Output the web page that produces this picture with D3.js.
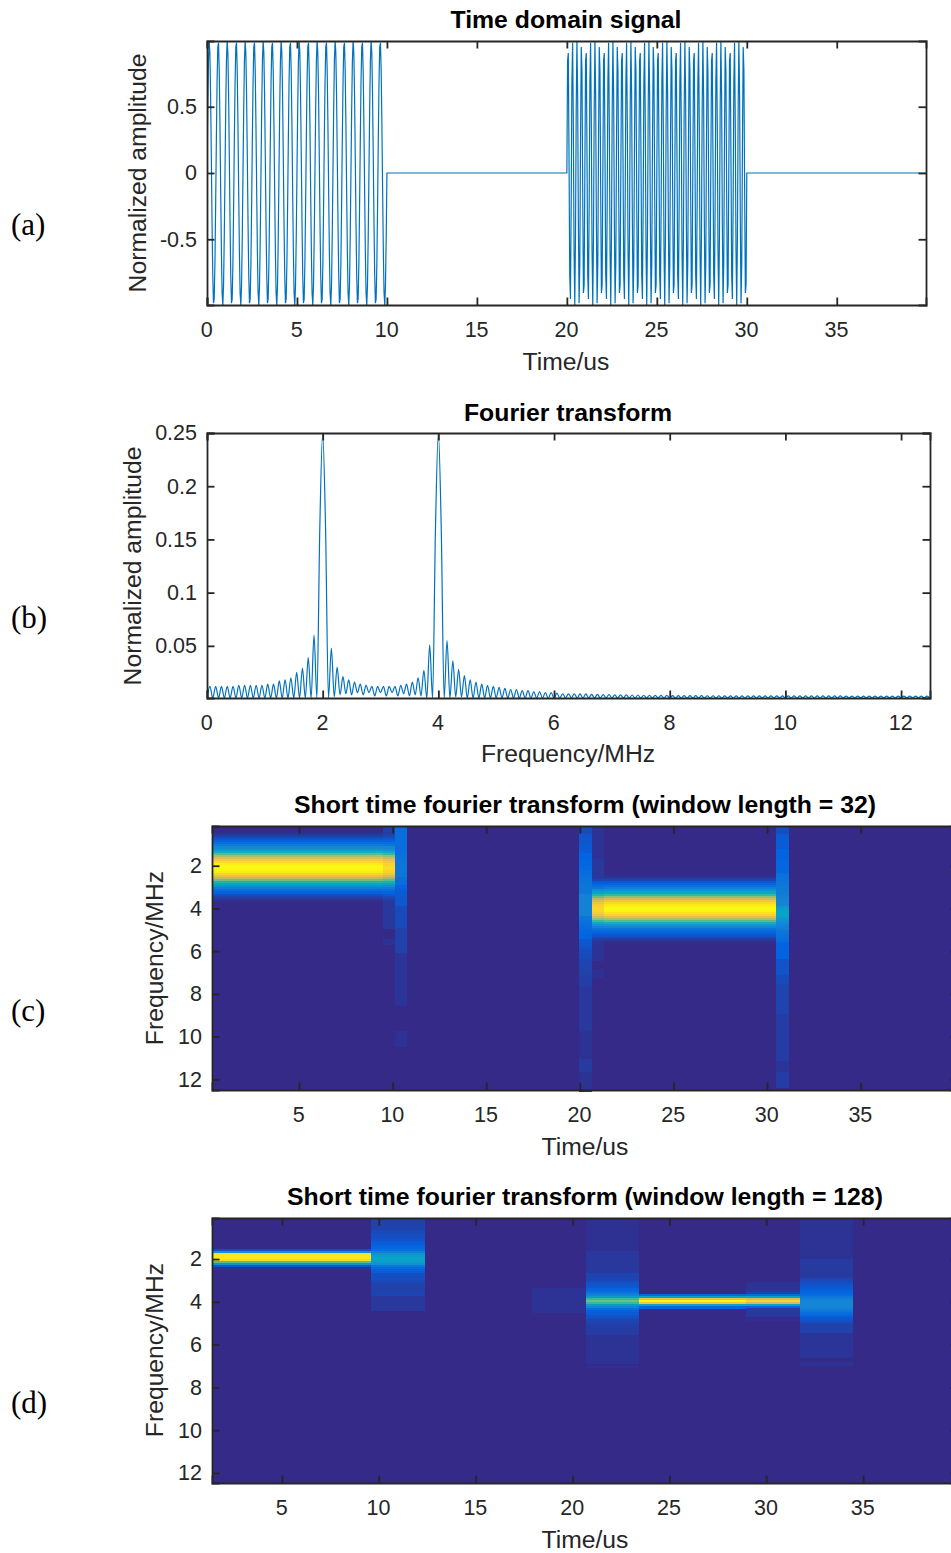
<!DOCTYPE html>
<html>
<head>
<meta charset="utf-8">
<style>
  body { margin: 0; background: #fff; overflow: hidden; }
  svg { display: block; }
  text { font-family: "Liberation Sans", Arial, sans-serif; fill: #262626; }
  .tickText text { font-size: 21.5px; }
  .labels { font-size: 24.7px; text-anchor: middle; }
  .title { font-size: 24.8px; font-weight: bold; text-anchor: middle; fill: #000; }
  .panelTag { font-family: "Liberation Serif", "Times New Roman", serif; font-size: 31px; fill: #000; }
</style>
</head>
<body>
<div id="vis"></div>
<script src="https://cdn.jsdelivr.net/npm/d3@7"></script>
<script>
// (a) time domain samples, 0.04 us apart
const sampleStep = 0.04;
const burstA = [
  0,.482,.844,.998,.905,.588,.125,-.368,-.771,-.982,-.951,-.685,-.249,.249,.685,.951,.982,.771,.368,-.125,-.588,-.905,-.998,-.844,-.482,
  0,.482,.844,.998,.905,.588,.125,-.368,-.771,-.982,-.951,-.685,-.249,.249,.685,.951,.982,.771,.368,-.125,-.588,-.905,-.998,-.844,-.482,
  0,.482,.844,.998,.905,.588,.125,-.368,-.771,-.982,-.951,-.685,-.249,.249,.685,.951,.982,.771,.368,-.125,-.588,-.905,-.998,-.844,-.482,
  0,.482,.844,.998,.905,.588,.125,-.368,-.771,-.982,-.951,-.685,-.249,.249,.685,.951,.982,.771,.368,-.125,-.588,-.905,-.998,-.844,-.482,
  0,.482,.844,.998,.905,.588,.125,-.368,-.771,-.982,-.951,-.685,-.249,.249,.685,.951,.982,.771,.368,-.125,-.588,-.905,-.998,-.844,-.482,
  0,.482,.844,.998,.905,.588,.125,-.368,-.771,-.982,-.951,-.685,-.249,.249,.685,.951,.982,.771,.368,-.125,-.588,-.905,-.998,-.844,-.482,
  0,.482,.844,.998,.905,.588,.125,-.368,-.771,-.982,-.951,-.685,-.249,.249,.685,.951,.982,.771,.368,-.125,-.588,-.905,-.998,-.844,-.482,
  0,.482,.844,.998,.905,.588,.125,-.368,-.771,-.982,-.951,-.685,-.249,.249,.685,.951,.982,.771,.368,-.125,-.588,-.905,-.998,-.844,-.482,
  0,.482,.844,.998,.905,.588,.125,-.368,-.771,-.982,-.951,-.685,-.249,.249,.685,.951,.982,.771,.368,-.125,-.588,-.905,-.998,-.844,-.482,
  0,.482,.844,.998,.905,.588,.125,-.368,-.771,-.982,-.951,-.685,-.249,.249,.685,.951,.982,.771,.368,-.125,-.588,-.905,-.998,-.844,-.482,
  0];
const burstB = [
  0,.844,.905,.125,-.771,-.951,-.249,.685,.982,.368,-.588,-.998,-.482,.482,.998,.588,-.368,-.982,-.685,.249,.951,.771,-.125,-.905,-.844,
  0,.844,.905,.125,-.771,-.951,-.249,.685,.982,.368,-.588,-.998,-.482,.482,.998,.588,-.368,-.982,-.685,.249,.951,.771,-.125,-.905,-.844,
  0,.844,.905,.125,-.771,-.951,-.249,.685,.982,.368,-.588,-.998,-.482,.482,.998,.588,-.368,-.982,-.685,.249,.951,.771,-.125,-.905,-.844,
  0,.844,.905,.125,-.771,-.951,-.249,.685,.982,.368,-.588,-.998,-.482,.482,.998,.588,-.368,-.982,-.685,.249,.951,.771,-.125,-.905,-.844,
  0,.844,.905,.125,-.771,-.951,-.249,.685,.982,.368,-.588,-.998,-.482,.482,.998,.588,-.368,-.982,-.685,.249,.951,.771,-.125,-.905,-.844,
  0,.844,.905,.125,-.771,-.951,-.249,.685,.982,.368,-.588,-.998,-.482,.482,.998,.588,-.368,-.982,-.685,.249,.951,.771,-.125,-.905,-.844,
  0,.844,.905,.125,-.771,-.951,-.249,.685,.982,.368,-.588,-.998,-.482,.482,.998,.588,-.368,-.982,-.685,.249,.951,.771,-.125,-.905,-.844,
  0,.844,.905,.125,-.771,-.951,-.249,.685,.982,.368,-.588,-.998,-.482,.482,.998,.588,-.368,-.982,-.685,.249,.951,.771,-.125,-.905,-.844,
  0,.844,.905,.125,-.771,-.951,-.249,.685,.982,.368,-.588,-.998,-.482,.482,.998,.588,-.368,-.982,-.685,.249,.951,.771,-.125,-.905,-.844,
  0,.844,.905,.125,-.771,-.951,-.249,.685,.982,.368,-.588,-.998,-.482,.482,.998,.588,-.368,-.982,-.685,.249,.951,.771,-.125,-.905,-.844,
  0];

// (b) spectrum, one value each 0.05 MHz, one row per MHz
const spectrumStep = 0.05;
const spectrum = [
  .002,.012,.001,.012,.001,.012,.001,.012,.001,.012,.001,.013,.001,.013,.001,.013,.001,.013,.001,.013,
  .001,.014,.001,.014,.001,.017,.001,.018,.001,.020,.001,.025,.001,.029,.001,.039,.001,.060,.001,.16,
  .25,.16,.001,.048,.002,.030,.004,.021,.005,.018,.004,.016,.006,.014,.004,.013,.006,.012,.003,.012,
  .006,.012,.003,.012,.006,.012,.003,.013,.005,.014,.003,.016,.004,.020,.003,.027,.001,.051,.001,.16,
  .25,.16,.001,.055,.001,.036,.002,.028,.002,.022,.001,.018,.001,.016,.001,.014,.001,.013,.001,.012,
  .001,.011,.001,.010,.001,.009,.001,.009,.001,.008,.001,.008,.001,.007,.001,.007,.001,.006,.001,.006,
  .001,.0055,.001,.005,.001,.005,.001,.005,.001,.0048,.001,.0048,.001,.0045,.001,.0045,.001,.0042,.001,.0042,
  .001,.004,.001,.004,.001,.004,.001,.0038,.001,.0038,.001,.0036,.001,.0036,.001,.0035,.001,.0035,.001,.0035,
  .001,.0033,.001,.0033,.001,.0032,.001,.0032,.001,.0032,.001,.0032,.001,.0031,.001,.0031,.001,.0031,.001,.003,
  .001,.003,.001,.003,.001,.003,.001,.003,.001,.003,.001,.003,.001,.003,.001,.003,.001,.003,.001,.003,
  .001,.003,.001,.003,.001,.003,.001,.003,.001,.003,.001,.003,.001,.003,.001,.003,.001,.003,.001,.003,
  .001,.0028,.001,.0028,.001,.0028,.001,.0028,.001,.0028,.001,.0028,.001,.0028,.001,.0028,.001,.0028,.001,.0028,
  .001,.0028,.001,.0028,.001,.0028,.001,.0028,.001,.0028,.001];

// (c) spectrogram, window 32: time edges in us, first row and row values of each column
const heatRows = 129;
const edges32 = [0.35, 9.5, 10.14, 10.78, 19.96, 20.65, 21.3, 30.5, 31.15, 40.2];
const start32 = [3, 0, 0, 0, 0, 0, 24, 0, 0];
const cols32 = [
  [.01,.03,.06,.09,.12,.16,.21,.27,.34,.42,.55,.67,.77,.85,.91,.96,.99,1,.98,.95,.88,.8,.7,.58,.45,.37,.29,.22,.16,.12,.08,.05,.03,.01],
  [.05,.05,.05,.04,.05,.07,.1,.12,.16,.2,.26,.32,.4,.5,.62,.72,.8,.85,.88,.9,.92,.9,.88,.83,.75,.65,.55,.43,.35,.28,.22,.17,.13,.1,.07,.05,
   .03,.03,.03,.03,.03,.03,.03,.03,.03,.03,.03,.03,.03,.03,0,0,0,0,0,.02,.02,.02],
  [.16,.16,.16,.16,.16,.16,.16,.16,.16,.16,.16,.16,.17,.17,.18,.18,.19,.19,.2,.2,.2,.2,.19,.19,.19,.16,.16,.16,.16,.125,.125,.115,.11,.11,.105,.1,.1,.1,.1,
   .07,.07,.07,.07,.07,.07,.07,.07,.07,.07,.07,.05,.05,.05,.05,.05,.05,.05,.05,.05,.05,.05,.05,
   .025,.025,.025,.025,.025,.025,.025,.025,.025,.025,.025,.025,.025,.025,.025,.025,.025,.025,.025,.025,.025,.025,.025,.025,.025,.025,
   0,0,0,0,0,0,0,0,0,0,0,0,.02,.02,.02,.02,.02,.02,.02,.02],
  [],
  [.07,.07,.07,.07,.09,.09,.095,.095,.1,.1,.105,.11,.11,.125,.125,.13,.13,.14,.14,.145,.15,.15,.16,.165,.17,.175,.18,.185,.19,.195,.2,.2,.2,
   .24,.24,.24,.24,.24,.24,.24,.24,.24,.24,.24,.2,.19,.18,.17,.16,.155,.15,.14,.135,.13,.125,.1,.1,.095,.09,.085,.08,.075,.07,.07,.07,
   .06,.06,.055,.055,.05,.05,.05,.05,.045,.045,.045,.045,.045,
   .03,.03,.03,.03,.03,.03,.03,.03,.03,.03,.03,.03,.03,.03,.03,.03,.03,.03,.03,.03,.03,.03,
   .02,.02,.02,.02,.02,.02,.02,.02,.02,.02,.02,.02,.02,.02,.035,.035,.035,.035,.035,.035,.02,.02,.02,.02,.02,.02,.02,.02,.02,.02],
  [.02,.02,.02,.02,.02,.02,.02,.02,.02,.02,.02,.02,.02,.02,.02,.02,.03,.03,.03,.03,.03,.03,.03,.03,.03,
   .03,.06,.1,.13,.16,.2,.28,.36,.46,.57,.68,.76,.82,.86,.89,.9,.89,.86,.81,.73,.63,.51,.39,.31,.24,.18,.15,.12,.09,.06,.04,
   .02,.02,.02,.02,.02,.02,.02,.02,.02,.02,0,0,0,0,.015,.015,.015,.015],
  [.01,.03,.06,.1,.13,.17,.22,.3,.38,.5,.62,.74,.83,.9,.95,.99,1,.98,.94,.88,.79,.68,.55,.42,.33,.25,.19,.15,.12,.09,.06,.03,.01],
  [.08,.08,.08,.08,.11,.11,.11,.11,.11,.11,.11,.125,.125,.125,.13,.13,.13,.135,.135,.14,.14,.14,.14,.17,.175,.18,.185,.19,.195,.2,.205,.21,.215,.22,.23,.24,.245,.25,.25,
   .31,.34,.36,.375,.37,.35,.32,.3,.27,.25,.23,.22,.2,.19,.18,.17,.16,.15,.125,.125,.125,.125,.125,.125,.125,.125,.09,.09,.09,.09,.09,.09,.09,.09,.07,.07,.07,.07,
   .055,.055,.055,.055,.055,.055,.055,.055,.055,.055,.055,.055,.055,.055,.055,
   .04,.04,.04,.04,.04,.04,.04,.04,.04,.04,.04,.04,.04,.04,.04,.04,.04,.04,.04,.04,.04,.04,.04,
   .025,.025,.025,.025,.025,.04,.04,.04,.04,.04,.04,.04,.04],
  []
];

// (d) spectrogram, window 128
const edges128 = [1.39, 9.6, 12.38, 17.9, 20.69, 23.43, 28.95, 31.74, 34.48, 39.9];
const start128 = [15, 0, 0, 34, 0, 37, 31, 0, 0];
const cols128 = [
  [.08,.3,.92,.95,.95,.9,.55,.3,.1,.02],
  [.05,.05,.05,.05,.05,.05,.07,.07,.08,.08,.09,.11,.11,.12,.14,.17,.22,.3,.34,.36,.36,.34,.3,.2,.15,.12,.11,.08,.08,.08,.07,.06,.05,.05,.05,.05,.06,.06,.03,.03,.03,.03,.03,.03,.03],
  [],
  [.02,.02,.02,.02,.02,.02,.02,.02,.02,.02,.02,.02],
  [.015,.015,.015,.015,.015,.015,.015,.015,.015,.015,.015,.015,.015,.015,.015,.015,.03,.03,.03,.03,.03,.03,.03,.03,.03,.03,.03,.06,.06,.06,.07,.09,.09,.1,.13,.15,.2,.25,.33,.5,.58,.5,.33,.25,.16,.12,.11,.09,.08,.06,.06,.05,.04,.04,.04,.04,.04,
   .02,.02,.02,.02,.02,.02,.02,.02,.02,.02,.02,.02,.02,.02,0,.02],
  [.15,.35,.8,.98,.85,.35,.13],
  [.02,.02,.02,.02,.03,.05,.15,.35,.75,.88,.75,.35,.13,.03,.03,.03,.03,0,.015],
  [.02,.02,.02,.02,.02,.02,.02,.02,.02,.02,.02,.02,.02,.02,.02,.02,.02,.02,.02,.02,.035,.035,.035,.035,.035,.035,.035,.035,.035,.06,.07,.08,.09,.1,.11,.125,.14,.16,.2,.23,.25,.25,.25,.25,.23,.2,.16,.125,.1,.09,.08,.05,.05,.05,.05,.05,
   .025,.025,.025,.025,.025,.025,.025,.025,.025,.025,.025,.025,0,0,.02,.02],
  []
];

// tick labels
const timeTicksA = [0, 5, 10, 15, 20, 25, 30, 35];
const ampTicksA = [-0.5, 0, 0.5];
const freqTicksB = [0, 2, 4, 6, 8, 10, 12];
const ampTicksB = [0.05, 0.1, 0.15, 0.2, 0.25];
const timeTicksHeat = [5, 10, 15, 20, 25, 30, 35];
const freqTicksHeat = [2, 4, 6, 8, 10, 12];

const parula = d3.scaleLinear()
  .domain(d3.range(9).map(d => d / 8))
  .range(["#352a87", "#0363e1", "#1485d4", "#06a7c6", "#38b99e", "#92bf73", "#d9ba56", "#fcce2e", "#f9fb0e"])
  .clamp(true);

const lineColor = "#0072bd";
const inkColor = "#262626";

const svg = d3.select('#vis')
  .append('svg')
  .attr('width', 951)
  .attr('height', 1553);

svg.append("rect").attr("width", 951).attr("height", 1553).attr("fill", "#fff");

// frame: four axes, only bottom and left carry numbers
function drawAxes(x, y, xTicks, yTicks, xPad, yPad) {
  const [left, right] = x.range();
  const [top, bottom] = d3.extent(y.range());
  const bottomAxis = d3.axisBottom(x).tickValues(xTicks).tickSize(-7.5).tickPadding(xPad).tickFormat(d => String(d));
  const topAxis = d3.axisTop(x).tickValues(xTicks).tickSize(-7.5).tickFormat("");
  const leftAxis = d3.axisLeft(y).tickValues(yTicks).tickSize(-7.5).tickPadding(yPad).tickFormat(d => String(d));
  const rightAxis = d3.axisRight(y).tickValues(yTicks).tickSize(-7.5).tickFormat("");

  const gBottom = svg.append("g").attr("transform", `translate(0,${bottom})`).call(bottomAxis);
  const groups = [
    gBottom,
    svg.append("g").attr("transform", `translate(0,${top})`).call(topAxis),
    svg.append("g").attr("transform", `translate(${left},0)`).call(leftAxis),
    svg.append("g").attr("transform", `translate(${right},0)`).call(rightAxis)
  ];
  groups.forEach(g => {
    g.attr("class", "tickText").attr("font-family", null).attr("font-size", null);
    g.selectAll("line").attr("stroke", inkColor).attr("stroke-width", 1.8);
    g.selectAll("path").attr("stroke", inkColor).attr("stroke-width", 1.8);
    g.selectAll("text").attr("fill", inkColor);
  });
  gBottom.selectAll("text").attr("dx", -0.8);
}

function addLabels(title, titleX, titleY, xLabel, xLabelX, xLabelY, yLabel, yLabelX, yLabelY) {
  svg.append("text").attr("class", "title").attr("x", titleX).attr("y", titleY).text(title);
  svg.append("text").attr("class", "labels").attr("x", xLabelX).attr("y", xLabelY).text(xLabel);
  svg.append("text").attr("class", "labels")
    .attr("transform", `translate(${yLabelX},${yLabelY}) rotate(-90)`)
    .text(yLabel);
}

function drawLinePanel(id, points, x, y, curve) {
  svg.append("clipPath").attr("id", id)
    .append("rect")
    .attr("x", x.range()[0]).attr("y", y.range()[1])
    .attr("width", x.range()[1] - x.range()[0])
    .attr("height", y.range()[0] - y.range()[1]);
  const line = d3.line().x(d => x(d[0])).y(d => y(d[1])).curve(curve);
  svg.append("path")
    .datum(points)
    .attr("clip-path", `url(#${id})`)
    .attr("fill", "none")
    .attr("stroke", lineColor)
    .attr("stroke-width", 1.2)
    .attr("d", line);
}

function drawHeat(x, y, edges, starts, cols) {
  const fMin = y.domain()[0], fMax = y.domain()[1];
  const df = (fMax - fMin) / heatRows;
  svg.append("rect")
    .attr("x", x.range()[0]).attr("y", y.range()[0])
    .attr("width", x.range()[1] - x.range()[0])
    .attr("height", y.range()[1] - y.range()[0])
    .attr("fill", parula(0));
  cols.forEach((col, c) => {
    svg.append("g").selectAll("rect")
      .data(col.map((v, i) => ({ v, row: i + starts[c] })).filter(d => d.v > 0))
      .enter().append("rect")
      .attr("x", x(edges[c]))
      .attr("width", x(edges[c + 1]) - x(edges[c]))
      .attr("y", d => y(fMin + d.row * df))
      .attr("height", d => y(fMin + (d.row + 1) * df) - y(fMin + d.row * df) + 0.3)
      .attr("fill", d => parula(d.v))
      .attr("shape-rendering", "crispEdges");
  });
}

// (a)
const xA = d3.scaleLinear().domain([0, 39.96]).range([207, 926]);
const yA = d3.scaleLinear().domain([-0.996, 0.996]).range([305, 41]);
const signal = burstA.map((v, i) => [i * sampleStep, v])
  .concat(burstB.map((v, i) => [20 + i * sampleStep, v]))
  .concat([[39.96, 0]]);
drawLinePanel("clipA", signal, xA, yA, d3.curveLinear);
drawAxes(xA, yA, timeTicksA, ampTicksA, 17, 10);
addLabels("Time domain signal", 566, 28, "Time/us", 566, 370, "Normalized amplitude", 146, 173);

// (b)
const xB = d3.scaleLinear().domain([0, 12.5]).range([207, 930]);
const yB = d3.scaleLinear().domain([0.001, 0.25]).range([698, 433]);
drawLinePanel("clipB", spectrum.map((v, i) => [i * spectrumStep, v]), xB, yB, d3.curveMonotoneX);
drawAxes(xB, yB, freqTicksB, ampTicksB, 17, 10);
addLabels("Fourier transform", 568, 421, "Frequency/MHz", 568, 762, "Normalized amplitude", 141, 566);

// (c)
const xC = d3.scaleLinear().domain([0.35, 40.2]).range([212, 958]);
const yC = d3.scaleLinear().domain([0.14, 12.5]).range([826, 1090]);
drawHeat(xC, yC, edges32, start32, cols32);
drawAxes(xC, yC, timeTicksHeat, freqTicksHeat, 17, 10);
addLabels("Short time fourier transform (window length = 32)", 585, 813, "Time/us", 585, 1155, "Frequency/MHz", 163, 958);

// (d)
const xD = d3.scaleLinear().domain([1.39, 39.9]).range([212, 958]);
const yD = d3.scaleLinear().domain([0.08, 12.47]).range([1218, 1483]);
drawHeat(xD, yD, edges128, start128, cols128);
drawAxes(xD, yD, timeTicksHeat, freqTicksHeat, 17, 10);
addLabels("Short time fourier transform (window length = 128)", 585, 1205, "Time/us", 585, 1548, "Frequency/MHz", 163, 1350);

// panel tags
const tags = ["(a)", "(b)", "(c)", "(d)"];
const tagY = [235, 628, 1021, 1413];
svg.selectAll(".panelTag").data(tags).enter().append("text")
  .attr("class", "panelTag")
  .attr("x", 11)
  .attr("y", (d, i) => tagY[i])
  .text(d => d);
</script>
</body>
</html>
